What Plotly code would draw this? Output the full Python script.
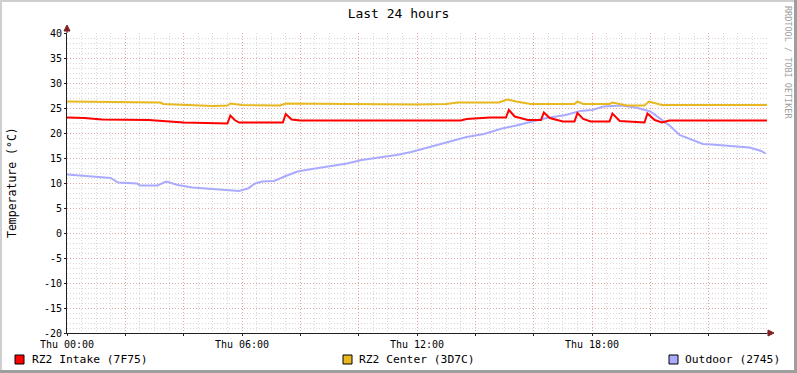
import plotly.graph_objects as go

# ---- data (hours since Thu 00:00, temperature in °C) ----
intake_h = [0.0, 0.6, 1.2, 2.8, 4.0, 5.0, 5.5, 5.6, 5.75, 5.9, 7.4, 7.5, 7.7, 8.0,
            13.5, 13.7, 14.5, 15.05, 15.15, 15.35, 15.8, 16.25, 16.35, 16.55, 17.0,
            17.4, 17.5, 17.7, 17.95, 18.6, 18.7, 18.95, 19.55, 19.8, 19.9, 20.15,
            20.4, 20.65, 24.0]
intake_v = [23.1, 23.0, 22.7, 22.6, 22.1, 21.9, 21.9, 23.5, 22.6, 22.1, 22.1, 23.8, 22.7, 22.5,
            22.5, 22.8, 23.1, 23.1, 24.6, 23.3, 22.6, 22.6, 24.1, 23.0, 22.3,
            22.3, 24.0, 22.8, 22.3, 22.3, 23.9, 22.4, 22.1, 22.1, 23.9, 22.6,
            22.1, 22.5, 22.5]

center_h = [0.0, 1.0, 3.2, 3.3, 4.6, 5.0, 5.5, 5.6, 6.0, 7.3, 7.5, 9.0, 11.0, 12.0,
            13.0, 13.4, 14.8, 15.1, 15.4, 15.9, 17.4, 17.5, 17.7, 18.6, 18.7, 19.2,
            19.8, 19.95, 20.4, 24.0]
center_v = [26.3, 26.2, 26.1, 25.8, 25.6, 25.4, 25.5, 25.9, 25.6, 25.5, 25.9, 25.8, 25.8, 25.7,
            25.8, 26.1, 26.1, 26.7, 26.3, 25.8, 25.8, 26.3, 25.8, 25.8, 26.1, 25.5,
            25.5, 26.3, 25.6, 25.6]

outdoor_h = [0.0, 0.9, 1.5, 1.75, 2.4, 2.5, 3.1, 3.4, 3.8, 4.3, 5.0, 5.6, 5.9, 6.2, 6.45,
             6.7, 7.1, 7.5, 7.9, 8.4, 9.0, 9.6, 10.1, 10.7, 11.3, 11.8, 12.0, 12.6, 13.1,
             13.7, 14.3, 14.85, 15.4, 16.0, 16.45, 17.1, 17.6, 18.0, 18.4, 19.0, 19.5,
             20.0, 20.3, 20.7, 21.0, 21.5, 21.8, 22.1, 22.5, 23.0, 23.4, 23.8, 23.95]
outdoor_v = [11.7, 11.3, 11.0, 10.1, 9.9, 9.5, 9.5, 10.3, 9.6, 9.1, 8.8, 8.4, 8.4, 8.9, 9.9,
             10.3, 10.4, 11.4, 12.3, 12.8, 13.3, 13.9, 14.6, 15.1, 15.6, 16.2, 16.5, 17.4, 18.2,
             19.2, 19.8, 20.8, 21.5, 22.3, 23.0, 23.6, 24.4, 24.6, 25.3, 25.5, 25.1,
             24.3, 23.0, 21.3, 19.6, 18.4, 17.8, 17.7, 17.5, 17.3, 17.1, 16.4, 15.9]

series_names = ["RZ2 Intake (7F75)", "RZ2 Center (3D7C)", "Outdoor (2745)"]
series_colors = ["#FF0000", "#E8B820", "#AAAAFF"]

x_tick_vals = [0, 2, 4, 6, 8, 10, 12, 14, 16, 18, 20, 22]
x_tick_text = ["Thu 00:00", "", "", "Thu 06:00", "", "", "Thu 12:00", "", "", "Thu 18:00", "", ""]
y_tick_vals = [-20, -15, -10, -5, 0, 5, 10, 15, 20, 25, 30, 35, 40]
y_tick_text = [str(v) for v in y_tick_vals]

FONT = "DejaVu Sans Mono"
W, H = 797, 373
L, R, T, B = 67, 30, 33, 40
PW, PH = W - L - R, H - T - B


def px_x(px):
    return (px - L) / PW


def px_y(py):
    return (H - B - py) / PH


fig = go.Figure()
for hs, vs, name, col in [(outdoor_h, outdoor_v, series_names[2], series_colors[2]),
                          (center_h, center_v, series_names[1], series_colors[1]),
                          (intake_h, intake_v, series_names[0], series_colors[0])]:
    fig.add_trace(go.Scatter(x=hs, y=vs, mode="lines", name=name,
                             line=dict(color=col, width=2), showlegend=False))

grid_minor = "rgba(128,128,128,0.3)"
grid_major = "rgba(235,120,120,0.55)"

fig.update_xaxes(range=[0, 24], tickmode="array", tickvals=x_tick_vals, ticktext=x_tick_text,
                 showgrid=True, gridcolor=grid_major, griddash="1px,2px", gridwidth=1,
                 zeroline=False, showline=True, linecolor="#202020", linewidth=1,
                 ticks="outside", ticklen=2, tickcolor="#202020",
                 tickfont=dict(family=FONT, size=10, color="#000000"),
                 minor=dict(dtick=0.5, tick0=0, showgrid=True, gridcolor=grid_minor,
                            griddash="1px,2px", gridwidth=1),
                 fixedrange=True)
fig.update_yaxes(range=[-20, 40], tickmode="array", tickvals=y_tick_vals, ticktext=y_tick_text,
                 showgrid=True, gridcolor=grid_major, griddash="1px,2px", gridwidth=1,
                 zeroline=False, showline=True, linecolor="#202020", linewidth=1,
                 ticks="outside", ticklen=2, tickcolor="#202020",
                 tickfont=dict(family=FONT, size=10, color="#000000"),
                 minor=dict(dtick=1, tick0=0, showgrid=True, gridcolor=grid_minor,
                            griddash="1px,2px", gridwidth=1),
                 fixedrange=True)

shapes = [
    # 3D frame: light top/left, dark bottom/right (paper bg), white inner canvas
    dict(type="rect", xref="paper", yref="paper", layer="below",
         x0=px_x(0), x1=px_x(794), y0=px_y(370), y1=px_y(0),
         fillcolor="#CFCFCF", line=dict(width=0)),
    dict(type="rect", xref="paper", yref="paper", layer="below",
         x0=px_x(2), x1=px_x(794), y0=px_y(370), y1=px_y(2),
         fillcolor="#FFFFFF", line=dict(width=0)),
    # axis extensions and arrows
    dict(type="line", xref="paper", yref="paper", x0=1.0, x1=px_x(770), y0=0, y1=0,
         line=dict(color="#202020", width=1)),
    dict(type="path", xref="paper", yref="paper",
         path=f"M {px_x(768)} {px_y(330)} L {px_x(774)} {px_y(333)} L {px_x(768)} {px_y(336)} Z",
         fillcolor="#802020", line=dict(color="#802020", width=1)),
    dict(type="line", xref="paper", yref="paper", x0=0, x1=0, y0=1.0, y1=px_y(30),
         line=dict(color="#202020", width=1)),
    dict(type="path", xref="paper", yref="paper",
         path=f"M {px_x(64)} {px_y(31)} L {px_x(67)} {px_y(25)} L {px_x(70)} {px_y(31)} Z",
         fillcolor="#802020", line=dict(color="#802020", width=1)),
]

# legend boxes and labels
legend_box_x = [15, 343, 669]
legend_text_x = [30, 357, 683]
annotations = []
for bx, tx, name, col in zip(legend_box_x, legend_text_x, series_names, series_colors):
    shapes.append(dict(type="rect", xref="paper", yref="paper",
                       x0=px_x(bx), x1=px_x(bx + 9), y0=px_y(364), y1=px_y(355),
                       fillcolor=col, line=dict(color="#000000", width=1)))
    annotations.append(dict(text=name, xref="paper", yref="paper", x=px_x(tx), y=px_y(359),
                            xanchor="left", yanchor="middle", showarrow=False,
                            font=dict(family=FONT, size=11.3, color="#000000")))

annotations.append(dict(text="Temperature (°C)", xref="paper", yref="paper",
                        x=px_x(12), y=px_y(183), textangle=-90, showarrow=False,
                        xanchor="center", yanchor="middle",
                        font=dict(family=FONT, size=11.5, color="#000000")))
annotations.append(dict(text="RRDTOOL / TOBI OETIKER", xref="paper", yref="paper",
                        x=px_x(788), y=px_y(62), textangle=90, showarrow=False,
                        xanchor="center", yanchor="middle",
                        font=dict(family=FONT, size=8.5, color="#A0A0A0")))

fig.update_layout(
    width=W, height=H,
    margin=dict(l=L, r=R, t=T, b=B, pad=0),
    paper_bgcolor="#9E9E9E",
    plot_bgcolor="rgba(0,0,0,0)",
    title=dict(text="Last 24 hours", x=0.5, xref="container", xanchor="center",
               y=1 - 13 / H, yref="container", yanchor="middle",
               font=dict(family=FONT, size=13, color="#000000")),
    shapes=shapes,
    annotations=annotations,
    showlegend=False,
)

fig.write_html("out.html", config={"displayModeBar": False},
               post_script="document.body.style.margin='0';document.body.style.overflow='hidden';")
